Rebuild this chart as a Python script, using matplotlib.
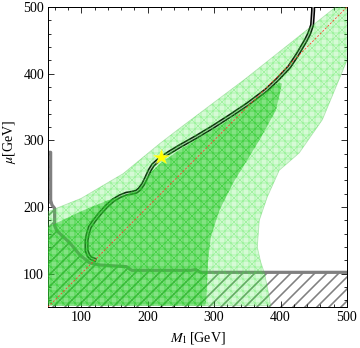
import matplotlib
matplotlib.use("Agg")
import matplotlib.pyplot as plt
from matplotlib.patches import Polygon
from matplotlib.ticker import MultipleLocator
import numpy as np

plt.rcParams['font.family'] = ['Liberation Serif', 'DejaVu Serif']
plt.rcParams['mathtext.fontset'] = 'stix'

# ---------------- data (GeV) ----------------
# light green allowed band (outline)
light_x = [50, 100, 163, 218, 248, 348, 483, 520, 520, 500, 463, 428, 398, 380, 368, 365, 370, 376, 383, 385, 60, 50]
light_y = [193, 213, 250, 295, 318, 393, 500, 530, 420, 420, 331, 281, 255, 215, 180, 140, 118, 100, 65, 52, 52, 57]

# darker green region (outline)
dark_x = [50, 103, 140, 163, 185, 195, 205, 220, 248, 273, 323, 368, 390, 398, 402, 400, 393, 368, 328, 308, 295, 291, 290, 288, 287, 50]
dark_y = [170, 195, 210, 217, 225, 238, 252, 266, 286, 301, 331, 366, 382, 387, 385, 375, 345, 300, 235, 195, 155, 120, 100, 60, 52, 52]

# black curve
curve_x = [449, 449, 447.5, 443, 438, 425, 413, 395, 378, 350, 323, 298, 273, 248, 233, 218, 208, 203, 198, 193, 188, 183, 175, 168, 158, 148, 138, 128, 120, 113, 110, 108, 108, 111, 115, 123]
curve_y = [505, 495, 473, 460, 450, 428, 410, 391, 375, 354, 336, 320, 305, 291, 282, 272, 263, 255, 244, 234, 227, 223, 221, 220, 216, 210, 201, 190, 180, 170, 160, 150, 135, 127, 123, 120]

# gray exclusion boundary
gray_x = [48, 54, 54, 56, 60, 60, 63, 68, 83, 98, 113, 128, 168, 176, 265, 272, 280, 505]
gray_y = [282, 282, 210, 203, 198, 172, 165, 160, 146, 128, 116, 113, 110.5, 105, 105, 106, 102, 102]

# diagonal M1 = mu
diag_x = [50, 500]
diag_y = [50, 500]

# benchmark point
star_x = [220]
star_y = [275]

xticks = [100, 200, 300, 400, 500]
yticks = [100, 200, 300, 400, 500]

# ---------------- figure ----------------
DPI = 72
fig = plt.figure(figsize=(360 / DPI, 348 / DPI), dpi=DPI)
ax = fig.add_axes([48 / 360, (348 - 307) / 348, 299 / 360, 300 / 348])
ax.set_xlim(50, 500)
ax.set_ylim(50, 500)

# gray hatched region below the gray line
gpoly_x = gray_x + [505, 48]
gpoly_y = gray_y + [45, 45]
with plt.rc_context({'hatch.linewidth': 1.6}):
    ax.add_patch(Polygon(np.column_stack([gpoly_x, gpoly_y]), closed=True,
                         facecolor='none', edgecolor=(0.5, 0.5, 0.5), lw=0,
                         hatch='//', zorder=1))
ax.plot(gray_x, gray_y, color=(0.5, 0.5, 0.5), lw=3.2, zorder=2,
        solid_joinstyle='round')

# black double curve
ax.plot(curve_x, curve_y, color='black', lw=4.2, zorder=3, solid_joinstyle='round', solid_capstyle='butt')
ax.plot(curve_x, curve_y, color=(0.8, 0.8, 0.8), lw=1.1, zorder=3.1, solid_joinstyle='round', solid_capstyle='butt')

# light green band
lpts = np.column_stack([light_x, light_y])
ax.add_patch(Polygon(lpts, closed=True, facecolor=(0.2, 0.9, 0.2), alpha=0.2,
                     edgecolor='none', zorder=4))
with plt.rc_context({'hatch.linewidth': 0.7}):
    ax.add_patch(Polygon(lpts, closed=True, facecolor='none',
                         edgecolor=(0.25, 0.9, 0.25, 0.4), lw=0, hatch='++xx', zorder=4.1))
ax.add_patch(Polygon(lpts, closed=True, facecolor='none',
                     edgecolor=(0.3, 0.75, 0.3, 0.35), lw=0.8, zorder=4.2))

# darker green region
dpts = np.column_stack([dark_x, dark_y])
ax.add_patch(Polygon(dpts, closed=True, facecolor=(0.2, 0.8, 0.2), alpha=0.5,
                     edgecolor='none', zorder=5))
with plt.rc_context({'hatch.linewidth': 0.7}):
    ax.add_patch(Polygon(dpts, closed=True, facecolor='none',
                         edgecolor=(0.1, 0.75, 0.1, 0.45), lw=0, hatch='++xx', zorder=5.1))

# diagonal
ax.plot(diag_x, diag_y, color=(1.0, 0.25, 0.15), lw=0.8, dashes=(2.5, 2.0), zorder=6)

# star
ax.plot(star_x, star_y, marker='*', color='#ffff00', markersize=16,
        markeredgecolor='#ffff40', markeredgewidth=0.5, linestyle='none', zorder=7)

# axes styling
ax.set_xticks(xticks)
ax.set_yticks(yticks)
ax.xaxis.set_minor_locator(MultipleLocator(20))
ax.yaxis.set_minor_locator(MultipleLocator(20))
ax.tick_params(which='both', direction='in', top=True, right=True, labelsize=14, pad=4)
ax.tick_params(which='major', length=6, width=0.8)
ax.tick_params(which='minor', length=3, width=0.8)
for s in ax.spines.values():
    s.set_linewidth(1.0)

ax.set_xlabel(r'$M_1\,$[GeV]', fontsize=14, labelpad=6)
ax.set_ylabel(r'$\mu$[GeV]', fontsize=14)
ax.yaxis.set_label_coords(-0.1, 0.55)

fig.savefig('out.png', dpi=DPI)
